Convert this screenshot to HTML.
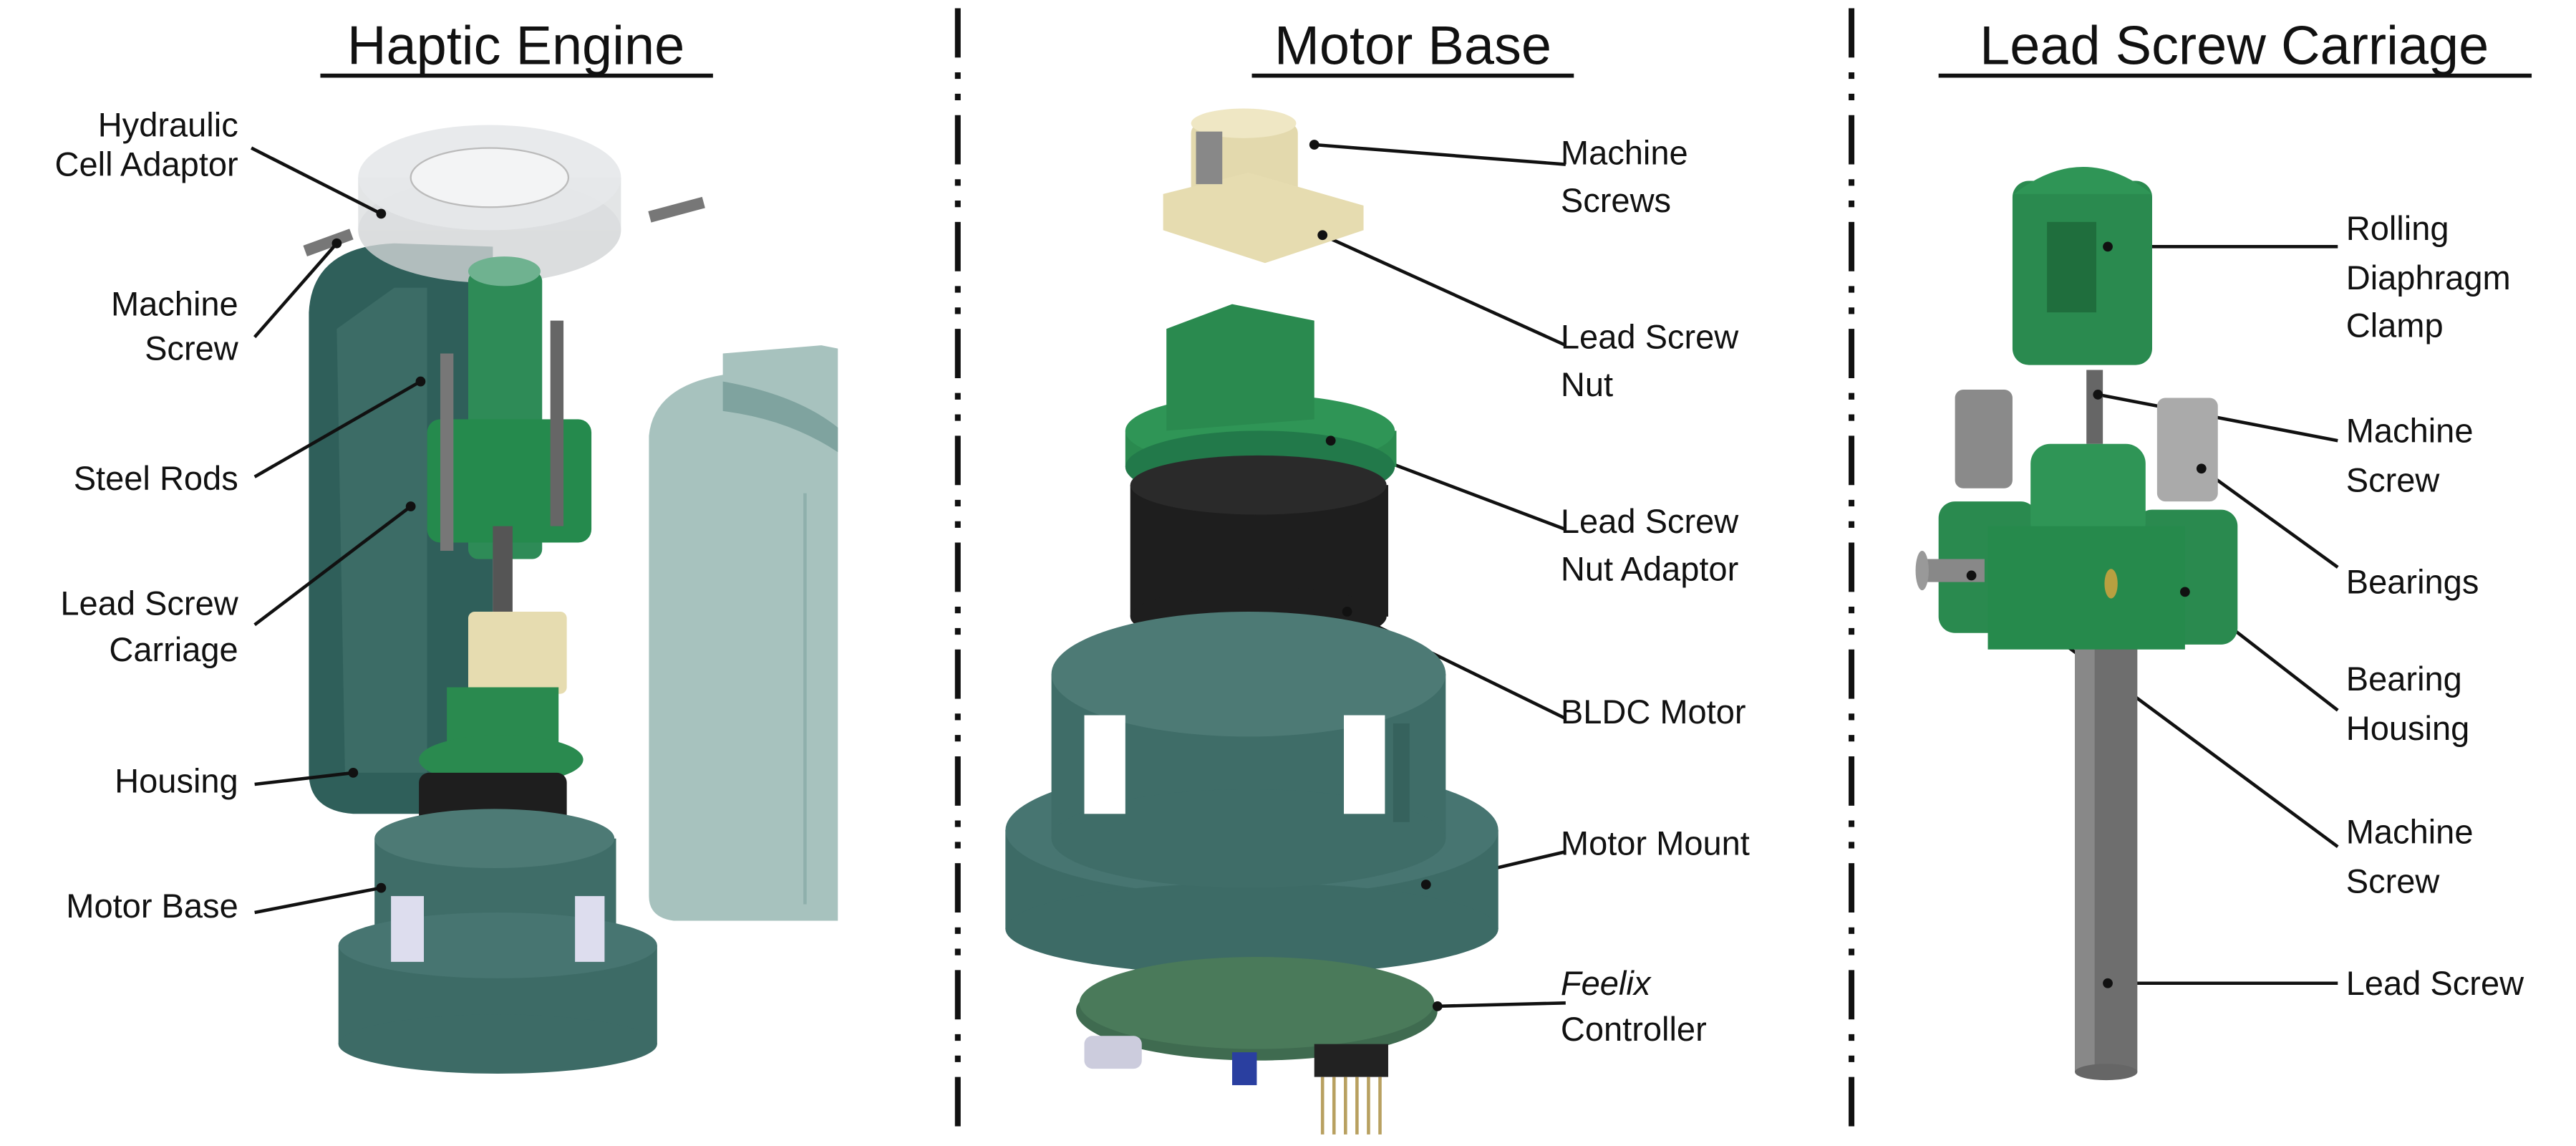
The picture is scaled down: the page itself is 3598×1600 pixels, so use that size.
<!DOCTYPE html>
<html><head><meta charset="utf-8"><style>
html,body{margin:0;padding:0;background:#fff;}
svg{display:block;}
text{font-family:"Liberation Sans",sans-serif;fill:#111;}
.l{font-size:20.5px;}
.t{font-size:33px;}
</style></head><body>
<svg width="3598" height="1600" viewBox="0 0 1568 697" preserveAspectRatio="none" xmlns="http://www.w3.org/2000/svg">
<rect width="1568" height="697" fill="#fff"/>
<g stroke="#111" stroke-width="3.5" stroke-dasharray="30,9,4,9,4,9">
<line x1="583" y1="5" x2="583" y2="692"/>
<line x1="1127" y1="5" x2="1127" y2="692"/>
</g>
<text class="t" x="314" y="39" text-anchor="middle">Haptic Engine</text>
<line x1="195" y1="46" x2="434" y2="46" stroke="#111" stroke-width="2.5"/>
<text class="t" x="860" y="39" text-anchor="middle">Motor Base</text>
<line x1="762" y1="46" x2="958" y2="46" stroke="#111" stroke-width="2.5"/>
<text class="t" x="1360" y="39" text-anchor="middle">Lead Screw Carriage</text>
<line x1="1180" y1="46" x2="1541" y2="46" stroke="#111" stroke-width="2.5"/>

<!-- HAPTIC ENGINE -->
<path d="M188 190 Q190 150 240 148 L300 150 L300 495 L215 495 Q188 493 188 470 Z" fill="#2f5f5a"/>
<path d="M205 200 L240 175 L260 175 L260 470 L210 470 Z" fill="#3c6c66"/>
<path d="M395 265 Q398 235 440 228 L440 215 L500 210 L510 212 L510 560 L410 560 Q395 558 395 545 Z" fill="#a7c2be"/>
<path d="M440 232 Q485 240 510 260 L510 275 Q480 255 440 250 Z" fill="#7fa39f"/>
<line x1="490" y1="300" x2="490" y2="550" stroke="#8fb0ac" stroke-width="2"/>
<ellipse cx="298" cy="140" rx="80" ry="32" fill="#d2d4d6" opacity="0.8"/>
<rect x="218" y="108" width="160" height="32" fill="#dcdee0" opacity="0.8"/>
<ellipse cx="298" cy="108" rx="80" ry="32" fill="#e6e8ea" opacity="0.9"/>
<ellipse cx="298" cy="108" rx="48" ry="18" fill="#f3f4f5" stroke="#bbb"/>
<rect x="185" y="144" width="30" height="7" fill="#777" transform="rotate(-20 200 148)"/>
<rect x="395" y="124" width="34" height="7" fill="#777" transform="rotate(-15 412 128)"/>
<rect x="285" y="165" width="45" height="175" rx="6" fill="#2e8b57"/>
<ellipse cx="307" cy="165" rx="22" ry="9" fill="#6fb290"/>
<rect x="260" y="255" width="100" height="75" rx="8" fill="#258a4d"/>
<rect x="268" y="215" width="8" height="120" fill="#777"/>
<rect x="335" y="195" width="8" height="125" fill="#666"/>
<rect x="300" y="320" width="12" height="55" fill="#555"/>
<rect x="285" y="372" width="60" height="50" rx="4" fill="#e6dcb0"/>
<rect x="272" y="418" width="68" height="42" fill="#2a8a4f"/>
<ellipse cx="305" cy="462" rx="50" ry="15" fill="#2a8a4f"/>
<rect x="255" y="470" width="90" height="65" rx="6" fill="#1e1e1e"/>
<ellipse cx="300" cy="535" rx="45" ry="10" fill="#1e1e1e"/>
<rect x="228" y="510" width="147" height="75" fill="#3f6d68"/>
<ellipse cx="301" cy="510" rx="73" ry="18" fill="#4d7a75"/>
<rect x="206" y="575" width="194" height="60" fill="#3d6b66"/>
<ellipse cx="303" cy="575" rx="97" ry="20" fill="#477571"/>
<ellipse cx="303" cy="635" rx="97" ry="18" fill="#3d6b66"/>
<rect x="238" y="545" width="20" height="40" fill="#dde"/>
<rect x="350" y="545" width="18" height="40" fill="#dde"/>

<g class="l" text-anchor="end">
<text x="145" y="83">Hydraulic</text><text x="145" y="107">Cell Adaptor</text>
<text x="145" y="192">Machine</text><text x="145" y="219">Screw</text>
<text x="145" y="298">Steel Rods</text>
<text x="145" y="374">Lead Screw</text><text x="145" y="402">Carriage</text>
<text x="145" y="482">Housing</text>
<text x="145" y="558">Motor Base</text>
</g>
<g stroke="#111" stroke-width="2" fill="none">
<line x1="153" y1="90" x2="232" y2="130"/>
<line x1="155" y1="205" x2="205" y2="148"/>
<line x1="155" y1="290" x2="256" y2="232"/>
<line x1="155" y1="380" x2="250" y2="308"/>
<line x1="155" y1="477" x2="215" y2="470"/>
<line x1="155" y1="555" x2="232" y2="540"/>
<line x1="953" y1="100" x2="800" y2="88"/>
<line x1="953" y1="210" x2="805" y2="143"/>
<line x1="953" y1="322" x2="810" y2="268"/>
<line x1="953" y1="437" x2="820" y2="372"/>
<line x1="953" y1="518" x2="868" y2="538"/>
<line x1="953" y1="610" x2="875" y2="612"/>
<line x1="1423" y1="150" x2="1283" y2="150"/>
<line x1="1423" y1="268" x2="1277" y2="240"/>
<line x1="1423" y1="345" x2="1340" y2="285"/>
<line x1="1423" y1="432" x2="1330" y2="360"/>
<line x1="1423" y1="515" x2="1200" y2="350"/>
<line x1="1423" y1="598" x2="1283" y2="598"/>
</g>

<!-- MOTOR BASE -->
<rect x="725" y="75" width="65" height="50" rx="6" fill="#e3d9ad"/>
<ellipse cx="757" cy="75" rx="32" ry="9" fill="#efe7c4"/>
<path d="M708 118 L760 105 L830 125 L830 140 L770 160 L708 140 Z" fill="#e6dcb0"/>
<rect x="728" y="80" width="16" height="32" fill="#888"/>
<rect x="685" y="262" width="165" height="22" fill="#2a8a4f"/>
<ellipse cx="767" cy="262" rx="82" ry="22" fill="#2f9556"/>
<ellipse cx="767" cy="284" rx="82" ry="22" fill="#22794a"/>
<path d="M710 200 L750 185 L800 195 L800 255 L710 262 Z" fill="#2a8a4f"/>
<rect x="688" y="295" width="157" height="80" fill="#1e1e1e"/>
<ellipse cx="766" cy="295" rx="78" ry="18" fill="#2a2a2a"/>
<ellipse cx="766" cy="375" rx="78" ry="18" fill="#1e1e1e"/>
<rect x="612" y="505" width="300" height="60" fill="#3d6b66"/>
<ellipse cx="762" cy="505" rx="150" ry="40" fill="#477571"/>
<ellipse cx="762" cy="565" rx="150" ry="28" fill="#3d6b66"/>
<rect x="640" y="410" width="240" height="100" fill="#3f6d68"/>
<ellipse cx="760" cy="410" rx="120" ry="38" fill="#4d7a75"/>
<ellipse cx="760" cy="510" rx="120" ry="30" fill="#3f6d68"/>
<rect x="660" y="435" width="25" height="60" fill="#fff"/>
<rect x="818" y="435" width="25" height="60" fill="#fff"/>
<rect x="848" y="440" width="10" height="60" fill="#36625d"/>
<ellipse cx="765" cy="615" rx="110" ry="30" fill="#3f6b50"/>
<ellipse cx="765" cy="610" rx="108" ry="28" fill="#4a7a5a"/>
<rect x="660" y="630" width="35" height="20" rx="5" fill="#ccd"/>
<rect x="750" y="640" width="15" height="20" fill="#2a3fa0"/>
<rect x="800" y="635" width="45" height="20" fill="#222"/>
<g stroke="#b8a060" stroke-width="2"><line x1="805" y1="655" x2="805" y2="690"/><line x1="812" y1="655" x2="812" y2="690"/><line x1="819" y1="655" x2="819" y2="690"/><line x1="826" y1="655" x2="826" y2="690"/><line x1="833" y1="655" x2="833" y2="690"/><line x1="840" y1="655" x2="840" y2="690"/></g>

<g class="l">
<text x="950" y="100">Machine</text><text x="950" y="129">Screws</text>
<text x="950" y="212">Lead Screw</text><text x="950" y="241">Nut</text>
<text x="950" y="324">Lead Screw</text><text x="950" y="353">Nut Adaptor</text>
<text x="950" y="440">BLDC Motor</text>
<text x="950" y="520">Motor Mount</text>
<text x="950" y="605" font-style="italic">Feelix</text><text x="950" y="633">Controller</text>
</g>

<!-- LEAD SCREW CARRIAGE -->
<rect x="1263" y="380" width="38" height="272" fill="#6e6e6e"/>
<rect x="1263" y="380" width="12" height="272" fill="#888"/>
<ellipse cx="1282" cy="652" rx="19" ry="5" fill="#666"/>
<rect x="1225" y="110" width="85" height="112" rx="10" fill="#2a8a4f"/>
<path d="M1226 118 Q1268 85 1310 118 Z" fill="#2f9556"/>
<rect x="1246" y="135" width="30" height="55" fill="#1f6e3d"/>
<rect x="1270" y="225" width="10" height="45" fill="#666"/>
<rect x="1190" y="237" width="35" height="60" rx="5" fill="#8a8a8a"/>
<rect x="1313" y="242" width="37" height="63" rx="5" fill="#aaa"/>
<rect x="1180" y="305" width="60" height="80" rx="10" fill="#2a8a4f"/>
<rect x="1300" y="310" width="62" height="82" rx="10" fill="#2a8a4f"/>
<rect x="1236" y="270" width="70" height="60" rx="12" fill="#2f9556"/>
<rect x="1210" y="320" width="120" height="75" fill="#268a4c"/>
<ellipse cx="1285" cy="355" rx="4" ry="9" fill="#b8a040"/>
<rect x="1168" y="340" width="40" height="14" fill="#888"/>
<ellipse cx="1170" cy="347" rx="4" ry="12" fill="#999"/>

<g class="l">
<text x="1428" y="146">Rolling</text><text x="1428" y="176">Diaphragm</text><text x="1428" y="205">Clamp</text>
<text x="1428" y="269">Machine</text><text x="1428" y="299">Screw</text>
<text x="1428" y="361">Bearings</text>
<text x="1428" y="420">Bearing</text><text x="1428" y="450">Housing</text>
<text x="1428" y="513">Machine</text><text x="1428" y="543">Screw</text>
<text x="1428" y="605">Lead Screw</text>
</g>
<g fill="#111">
<circle cx="232" cy="130" r="3"/><circle cx="205" cy="148" r="3"/><circle cx="256" cy="232" r="3"/><circle cx="250" cy="308" r="3"/><circle cx="215" cy="470" r="3"/><circle cx="232" cy="540" r="3"/>
<circle cx="800" cy="88" r="3"/><circle cx="805" cy="143" r="3"/><circle cx="810" cy="268" r="3"/><circle cx="820" cy="372" r="3"/><circle cx="868" cy="538" r="3"/><circle cx="875" cy="612" r="3"/>
<circle cx="1283" cy="150" r="3"/><circle cx="1277" cy="240" r="3"/><circle cx="1340" cy="285" r="3"/><circle cx="1330" cy="360" r="3"/><circle cx="1200" cy="350" r="3"/><circle cx="1283" cy="598" r="3"/>
</g>
</svg>
</body></html>
